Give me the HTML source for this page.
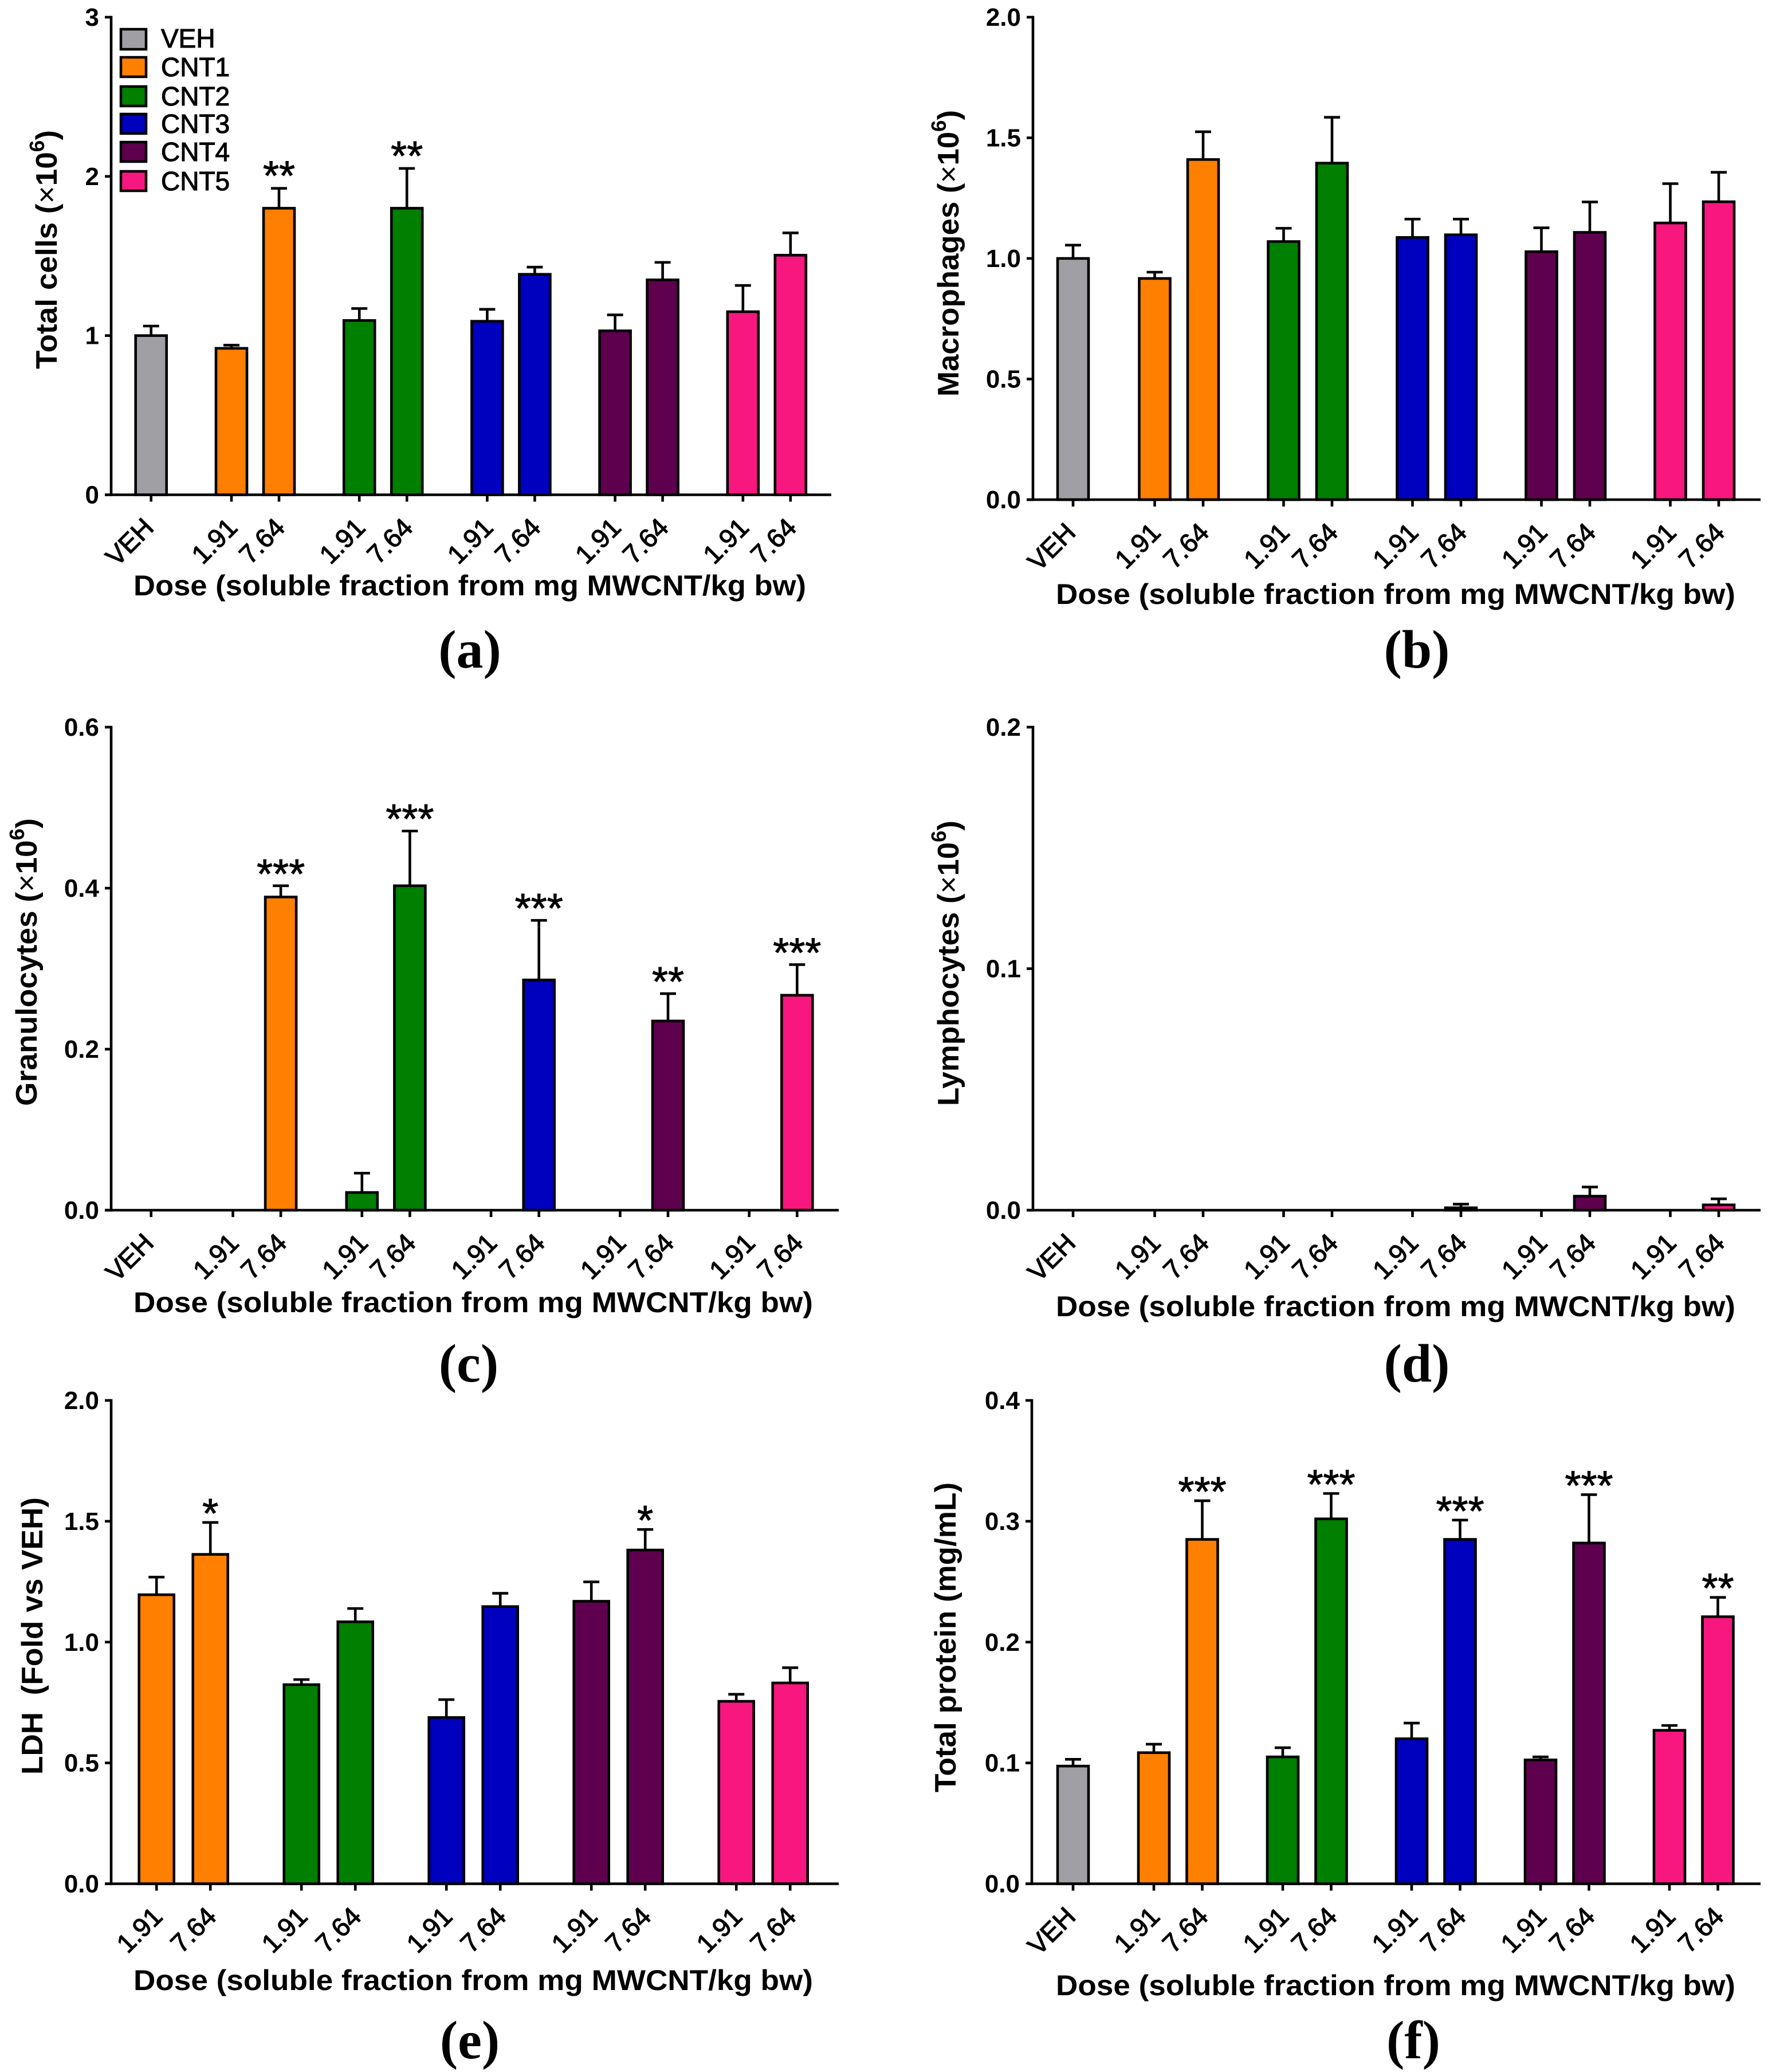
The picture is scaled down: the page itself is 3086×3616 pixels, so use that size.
<!DOCTYPE html>
<html lang="en">
<head>
<meta charset="utf-8">
<title>Six-panel MWCNT dose bar charts</title>
<style>
html,body{margin:0;padding:0;background:#fff}
svg{display:block}
text{font-family:"Liberation Sans",Arial,sans-serif;fill:#000}
.ytitle{font-size:52px;font-weight:bold}
.ytitle .x{font-weight:normal}
.xtitle{font-size:50px;font-weight:bold}
.cap{font-family:"Liberation Serif",serif;font-size:94px;font-weight:bold;text-anchor:middle}
.tick{font-size:44px;font-weight:bold}
.dose{font-size:46px;font-weight:normal;stroke:#000;stroke-width:1.2px}
.star{font-size:72px;text-anchor:middle;stroke:#000;stroke-width:1px}
.leg{font-size:46px;stroke:#000;stroke-width:1.1px}
</style>
</head>
<body>
<svg id="figure" xmlns="http://www.w3.org/2000/svg" width="3086" height="3616" viewBox="0 0 3086 3616">
<rect width="3086" height="3616" fill="#fff"/>

<g id="panel-a">
<text class="ytitle" transform="translate(99,644) rotate(-90)" textLength="417" lengthAdjust="spacingAndGlyphs">Total cells (<tspan class="x">×</tspan>10<tspan dy="-22" font-size="36">6</tspan><tspan dy="22">)</tspan></text>
<text class="xtitle" x="233" y="1039" textLength="1174" lengthAdjust="spacingAndGlyphs">Dose (soluble fraction from mg MWCNT/kg bw)</text>
<text class="cap" x="820" y="1165">(a)</text>
</g>

<g id="panel-b">
<text class="ytitle" transform="translate(1673,692) rotate(-90)" textLength="500" lengthAdjust="spacingAndGlyphs">Macrophages (<tspan class="x">×</tspan>10<tspan dy="-22" font-size="36">6</tspan><tspan dy="22">)</tspan></text>
<text class="xtitle" x="1843" y="1054" textLength="1186" lengthAdjust="spacingAndGlyphs">Dose (soluble fraction from mg MWCNT/kg bw)</text>
<text class="cap" x="2473" y="1165">(b)</text>
</g>

<g id="panel-c">
<text class="ytitle" transform="translate(64,1930) rotate(-90)" textLength="502" lengthAdjust="spacingAndGlyphs">Granulocytes (<tspan class="x">×</tspan>10<tspan dy="-22" font-size="36">6</tspan><tspan dy="22">)</tspan></text>
<text class="xtitle" x="233" y="2290" textLength="1186" lengthAdjust="spacingAndGlyphs">Dose (soluble fraction from mg MWCNT/kg bw)</text>
<text class="cap" x="818" y="2411">(c)</text>
</g>

<g id="panel-d">
<text class="ytitle" transform="translate(1673,1930) rotate(-90)" textLength="498" lengthAdjust="spacingAndGlyphs">Lymphocytes (<tspan class="x">×</tspan>10<tspan dy="-22" font-size="36">6</tspan><tspan dy="22">)</tspan></text>
<text class="xtitle" x="1843" y="2297" textLength="1186" lengthAdjust="spacingAndGlyphs">Dose (soluble fraction from mg MWCNT/kg bw)</text>
<text class="cap" x="2473" y="2411">(d)</text>
</g>

<g id="panel-e">
<text class="ytitle" transform="translate(74,3097) rotate(-90)" textLength="484" lengthAdjust="spacingAndGlyphs" xml:space="preserve">LDH  (Fold vs VEH)</text>
<text class="xtitle" x="233" y="3473" textLength="1186" lengthAdjust="spacingAndGlyphs">Dose (soluble fraction from mg MWCNT/kg bw)</text>
<text class="cap" x="820" y="3592">(e)</text>
</g>

<g id="panel-f">
<text class="ytitle" transform="translate(1668,3128) rotate(-90)" textLength="541" lengthAdjust="spacingAndGlyphs">Total protein (mg/mL)</text>
<text class="xtitle" x="1843" y="3482" textLength="1186" lengthAdjust="spacingAndGlyphs">Dose (soluble fraction from mg MWCNT/kg bw)</text>
<text class="cap" x="2467" y="3592">(f)</text>
</g>

<g id="legend">
<g><rect x="211" y="51" width="44" height="35" fill="#a09fa4" stroke="#000" stroke-width="4.5"/><text class="leg" x="281" y="83">VEH</text></g>
<g><rect x="211" y="100" width="44" height="34" fill="#ff7f00" stroke="#000" stroke-width="4.5"/><text class="leg" x="281" y="133">CNT1</text></g>
<g><rect x="211" y="151" width="44" height="34" fill="#007f00" stroke="#000" stroke-width="4.5"/><text class="leg" x="281" y="184">CNT2</text></g>
<g><rect x="211" y="199" width="44" height="34" fill="#0000bf" stroke="#000" stroke-width="4.5"/><text class="leg" x="281" y="232">CNT3</text></g>
<g><rect x="211" y="248" width="44" height="34" fill="#5f004f" stroke="#000" stroke-width="4.5"/><text class="leg" x="281" y="281">CNT4</text></g>
<g><rect x="211" y="299" width="44" height="34" fill="#f7177f" stroke="#000" stroke-width="4.5"/><text class="leg" x="281" y="332">CNT5</text></g>
</g>
</svg>

<script>
// ---- Shared categories ----
const seriesNames = ['VEH','CNT1','CNT1','CNT2','CNT2','CNT3','CNT3','CNT4','CNT4','CNT5','CNT5'];
const doseLabels = ['VEH','1.91','7.64','1.91','7.64','1.91','7.64','1.91','7.64','1.91','7.64'];

// ---- Panel (a) Total cells ----
const totalCellsTicks = ['0','1','2','3'];
const totalCellsMeans = [1.0,0.92,1.80,1.095,1.80,1.09,1.385,1.03,1.35,1.15,1.505];
const totalCellsErrors = [0.06,0.02,0.125,0.075,0.25,0.075,0.045,0.10,0.11,0.165,0.14];
const totalCellsStars = ['','','**','','**','','','','','',''];

// ---- Panel (b) Macrophages ----
const macrophageTicks = ['0.0','0.5','1.0','1.5','2.0'];
const macrophageMeans = [1.0,0.917,1.41,1.07,1.395,1.087,1.098,1.028,1.108,1.147,1.235];
const macrophageErrors = [0.055,0.026,0.115,0.055,0.19,0.076,0.065,0.099,0.126,0.163,0.122];
const macrophageStars = ['','','','','','','','','','',''];

// ---- Panel (c) Granulocytes ----
const granulocyteTicks = ['0.0','0.2','0.4','0.6'];
const granulocyteMeans = [0,0,0.389,0.022,0.403,0,0.286,0,0.235,0,0.267];
const granulocyteErrors = [0,0,0.014,0.024,0.068,0,0.074,0,0.034,0,0.038];
const granulocyteStars = ['','','***','','***','','***','','**','','***'];

// ---- Panel (d) Lymphocytes ----
const lymphocyteTicks = ['0.0','0.1','0.2'];
const lymphocyteMeans = [0,0,0,0,0,0,0.001,0,0.0058,0,0.0022];
const lymphocyteErrors = [0,0,0,0,0,0,0.0015,0,0.0038,0,0.0025];
const lymphocyteStars = ['','','','','','','','','','',''];

// ---- Panel (e) LDH ----
const ldhTicks = ['0.0','0.5','1.0','1.5','2.0'];
const ldhMeans = [null,1.196,1.363,0.824,1.084,0.688,1.147,1.169,1.381,0.755,0.831];
const ldhErrors = [null,0.073,0.132,0.021,0.055,0.074,0.055,0.08,0.085,0.029,0.063];
const ldhStars = ['','','*','','','','','','*','',''];

// ---- Panel (f) Total protein ----
const proteinTicks = ['0.0','0.1','0.2','0.3','0.4'];
const proteinMeans = [0.0974,0.1085,0.285,0.105,0.302,0.12,0.285,0.1025,0.282,0.127,0.221];
const proteinErrors = [0.0056,0.007,0.032,0.0076,0.021,0.013,0.016,0.0025,0.04,0.004,0.016];
const proteinStars = ['','','***','','***','','***','','***','','**'];

// ---- Styling ----
const seriesColors = {VEH:'#a09fa4',CNT1:'#ff7f00',CNT2:'#007f00',CNT3:'#0000bf',CNT4:'#5f004f',CNT5:'#f7177f'};
const SVGNS = 'http://www.w3.org/2000/svg';

function make(parent, tag, attrs, text) {
  const el = document.createElementNS(SVGNS, tag);
  for (const k in attrs) el.setAttribute(k, attrs[k]);
  if (text !== undefined) el.textContent = text;
  parent.appendChild(el);
  return el;
}

function drawPanel(p) {
  const g = document.getElementById(p.id);
  const tickValues = p.ticks.map(Number);
  const maxV = tickValues[tickValues.length - 1];
  // axis functions
  const yScale = v => p.y0 - (v / maxV) * (p.y0 - p.yTop);
  const xScale = i => i === 0 ? p.vehX : p.firstX + Math.floor((i - 1) / 2) * p.groupStep + ((i - 1) % 2) * p.pairStep;
  const AX = 4.6;

  // bars and error bars
  p.means.forEach((v, i) => {
    if (v === null) return;
    const x = xScale(i);
    const color = seriesColors[seriesNames[i]];
    const key = seriesNames[i].toLowerCase() + '-' + doseLabels[i];
    if (v > 0) {
      const top = yScale(v + p.errors[i]);
      const stem = make(g, 'line', {x1:x, x2:x, y1:yScale(v), y2:top, stroke:'#000', 'stroke-width':4.6});
      
      
      const cap = make(g, 'line', {x1:x-14, x2:x+14, y1:top, y2:top, stroke:'#000', 'stroke-width':4.6});
      
      
      const bar = make(g, 'rect', {x:x-p.barW/2+2, y:yScale(v), width:p.barW-4, height:p.y0-yScale(v), fill:color, stroke:'#000', 'stroke-width':4.6});
      
      
    }
    if (p.stars[i]) {
      const sy = yScale(v + p.errors[i]) + 9 - p.starLift;
      const star = make(g, 'text', {class:'star', x:x, y:sy}, p.stars[i]);
      
      
    }
  });

  // y axis
  const yAxis = make(g, 'line', {x1:p.axisX, x2:p.axisX, y1:p.yTop-2.3, y2:p.y0+2.3, stroke:'#000', 'stroke-width':AX});
  
  
  p.ticks.forEach((label, i) => {
    const y = yScale(tickValues[i]);
    const tick = make(g, 'line', {x1:p.axisX-11, x2:p.axisX, y1:y, y2:y, stroke:'#000', 'stroke-width':AX});
    
    
    const t = make(g, 'text', {class:'tick', x:p.axisX-21, y:y+15, 'text-anchor':'end'}, label);
    
    
  });

  // x axis
  const xAxis = make(g, 'line', {x1:p.axisX-11, x2:p.xEnd, y1:p.y0, y2:p.y0, stroke:'#000', 'stroke-width':AX});
  
  
  doseLabels.forEach((label, i) => {
    if (p.means[i] === null) return;
    const x = xScale(i);
    const tick = make(g, 'line', {x1:x, x2:x, y1:p.y0, y2:p.y0+12, stroke:'#000', 'stroke-width':AX});
    
    
    const dx = i === 0 ? 7 : 13;
    const t = make(g, 'text', {class:'dose', transform:'translate(' + (x+dx) + ',' + (p.y0+60) + ') rotate(-45)', 'text-anchor':'end'}, label);
    
    
  });
}

drawPanel({id:'panel-a', ticks:totalCellsTicks, means:totalCellsMeans, errors:totalCellsErrors, stars:totalCellsStars, starLift:6,
  axisX:194, xEnd:1451, yTop:30, y0:863.5, vehX:263.7, firstX:404, groupStep:223.2, pairStep:83, barW:58});
drawPanel({id:'panel-b', ticks:macrophageTicks, means:macrophageMeans, errors:macrophageErrors, stars:macrophageStars, starLift:0,
  axisX:1803, xEnd:3073, yTop:30, y0:872, vehX:1873, firstX:2015.5, groupStep:225, pairStep:84.5, barW:58});
drawPanel({id:'panel-c', ticks:granulocyteTicks, means:granulocyteMeans, errors:granulocyteErrors, stars:granulocyteStars, starLift:5,
  axisX:194, xEnd:1464, yTop:1269, y0:2112, vehX:263.7, firstX:406.5, groupStep:225.3, pairStep:83.6, barW:58});
drawPanel({id:'panel-d', ticks:lymphocyteTicks, means:lymphocyteMeans, errors:lymphocyteErrors, stars:lymphocyteStars, starLift:0,
  axisX:1803, xEnd:3073, yTop:1269, y0:2112, vehX:1873, firstX:2015.5, groupStep:225, pairStep:84.5, barW:58});
drawPanel({id:'panel-e', ticks:ldhTicks, means:ldhMeans, errors:ldhErrors, stars:ldhStars, starLift:0,
  axisX:194, xEnd:1464, yTop:2444, y0:3287.5, vehX:0, firstX:273.2, groupStep:253, pairStep:94, barW:65});
drawPanel({id:'panel-f', ticks:proteinTicks, means:proteinMeans, errors:proteinErrors, stars:proteinStars, starLift:0,
  axisX:1801, xEnd:3073, yTop:2444, y0:3287.5, vehX:1873, firstX:2014, groupStep:225, pairStep:84.5, barW:58});
</script>
</body>
</html>
